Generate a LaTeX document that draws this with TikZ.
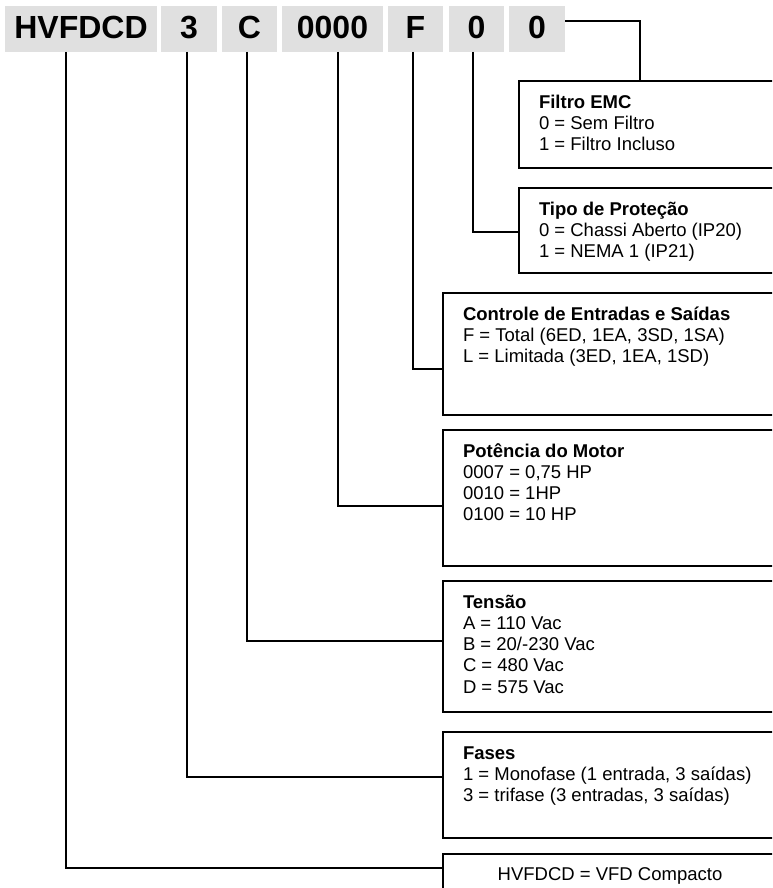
\documentclass[tikz,border=0pt]{standalone}
\usepackage{fontspec}
\setmainfont{Liberation Sans}
\usetikzlibrary{calc}
\definecolor{codegray}{rgb}{0.878,0.878,0.878}
\begin{document}
\begin{tikzpicture}[x=1pt,y=-1pt,
  codebox/.style={fill=codegray, inner sep=0pt, outer sep=0pt, minimum height=46pt,
    font=\fontsize{32}{38}\selectfont\bfseries, text height=22.9pt, text depth=4.6pt},
  infobox/.style={draw, line width=2.3pt, inner sep=0pt, outer sep=0pt, anchor=north west},
  infotext/.style={anchor=north west, inner sep=0pt, outer sep=0pt, align=left,
    font=\fontsize{18.5}{21.3}\selectfont},
  conn/.style={line width=1.7pt}]
\useasboundingbox (0,0) rectangle (772,888);
\clip (0,0) rectangle (772,888);

% code boxes
\node[codebox, minimum width=152pt] (c1) at (81,29) {HVFDCD};
\node[codebox, minimum width=56pt] (c2) at (189,29) {3};
\node[codebox, minimum width=55pt] (c3) at (249.5,29) {C};
\node[codebox, minimum width=101pt] (c4) at (332.5,29) {0000};
\node[codebox, minimum width=55pt] (c5) at (415.5,29) {F};
\node[codebox, minimum width=55pt] (c6) at (476.5,29) {0};
\node[codebox, minimum width=56pt] (c7) at (537,29) {0};

% info boxes
\node[infobox, minimum width=266pt, minimum height=87pt] (filtro) at (519,81) {};
\node[infobox, minimum width=266pt, minimum height=85pt] (tipo) at (519,188) {};
\node[infobox, minimum width=342pt, minimum height=122pt] (ctrl) at (443,293) {};
\node[infobox, minimum width=342pt, minimum height=136pt] (pot) at (443,430) {};
\node[infobox, minimum width=342pt, minimum height=131pt] (tens) at (443,581) {};
\node[infobox, minimum width=342pt, minimum height=106pt] (fases) at (443,732) {};
\node[infobox, minimum width=334pt, minimum height=60pt] (hv) at (443,854) {};

% texts
\node[infotext] (filtroT) at ($(filtro.north west)+(20,12.1)$)
  {\textbf{Filtro EMC}\strut\\0 = Sem Filtro\\1 = Filtro Incluso};
\node[infotext] (tipoT) at ($(tipo.north west)+(20,12.1)$)
  {\textbf{Tipo de Proteção}\strut\\0 = Chassi Aberto (IP20)\\1 = NEMA 1 (IP21)};
\node[infotext] (ctrlT) at ($(ctrl.north west)+(20,12.1)$)
  {\textbf{Controle de Entradas e Saídas}\strut\\F = Total (6ED, 1EA, 3SD, 1SA)\\L = Limitada (3ED, 1EA, 1SD)};
\node[infotext] (potT) at ($(pot.north west)+(20,12.1)$)
  {\textbf{Potência do Motor}\strut\\0007 = 0,75 HP\\0010 = 1HP\\0100 = 10 HP};
\node[infotext] (tensT) at ($(tens.north west)+(20,12.1)$)
  {\textbf{Tensão}\strut\\A = 110 Vac\\B = 20/-230 Vac\\C = 480 Vac\\D = 575 Vac};
\node[infotext] (fasesT) at ($(fases.north west)+(20,12.1)$)
  {\textbf{Fases}\strut\\1 = Monofase (1 entrada, 3 saídas)\\3 = trifase (3 entradas, 3 saídas)};
\node[anchor=base, inner sep=0pt, font=\fontsize{18.5}{21.3}\selectfont] (hvT)
  at ($(hv.north)+(0,26)$) {HVFDCD = VFD Compacto};

% connectors
\coordinate (k0) at (640,21);
\coordinate (k1) at (473,232);
\coordinate (k2) at (413,369);
\coordinate (k3) at (338,506);
\coordinate (k4) at (247,641);
\coordinate (k5) at (187,777);
\coordinate (k6) at (66,868);
\draw[conn] (c7.east |- k0) -| (filtro.north -| k0);
\draw[conn] (c6.south -| k1) |- (tipo.west |- k1);
\draw[conn] (c5.south -| k2) |- (ctrl.west |- k2);
\draw[conn] (c4.south -| k3) |- (pot.west |- k3);
\draw[conn] (c3.south -| k4) |- (tens.west |- k4);
\draw[conn] (c2.south -| k5) |- (fases.west |- k5);
\draw[conn] (c1.south -| k6) |- (hv.west |- k6);
\end{tikzpicture}
\end{document}
